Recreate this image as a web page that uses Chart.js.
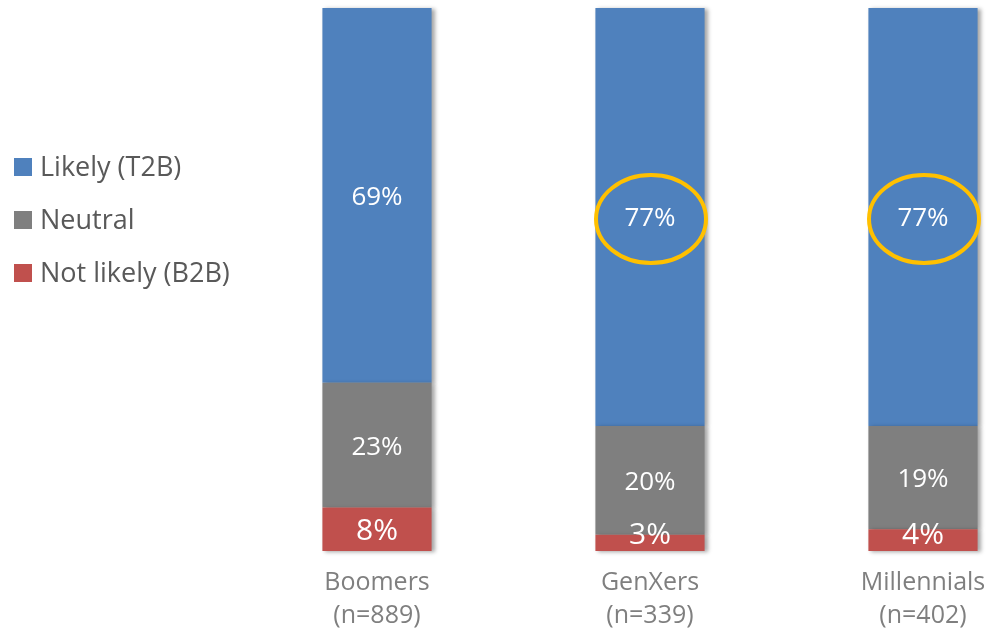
<!DOCTYPE html>
<html>
<head>
<meta charset="utf-8">
<script src="https://cdn.jsdelivr.net/npm/chart.js@4/dist/chart.umd.min.js"></script>
<style>
html,body{margin:0;padding:0;background:#fff;}
#wrap{width:1002px;height:632px;position:relative;}
</style>
</head>
<body>
<div id="wrap"><canvas id="c"></canvas></div>
<script>
const categories = [["Boomers","(n=889)"],["GenXers","(n=339)"],["Millennials","(n=402)"]];
const notLikely = [8, 3, 4];
const neutral = [23, 20, 19];
const likely = [69, 77, 77];
const seriesNames = ["Not likely (B2B)", "Neutral", "Likely (T2B)"];
const seriesColors = ["#C0504D", "#7F7F7F", "#4F81BD"];
const highlighted = [1, 2]; // categories with circled "Likely" value

const FONT = "'Open Sans', Lato, sans-serif";

const labelPlugin = {
  id: 'valueLabels',
  beforeDatasetsDraw(chart) {
    const ctx = chart.ctx;
    ctx.save();
    ctx.shadowColor = 'rgba(0,0,0,0.35)';
    ctx.shadowBlur = 4;
    ctx.shadowOffsetX = 3;
    ctx.shadowOffsetY = 1;
  },
  afterDatasetsDraw(chart) {
    const ctx = chart.ctx;
    ctx.restore();
    ctx.save();
    ctx.fillStyle = '#ffffff';
    ctx.textAlign = 'center';
    ctx.textBaseline = 'middle';
    const bottom = chart.chartArea.bottom;
    chart.data.datasets.forEach((ds, di) => {
      const meta = chart.getDatasetMeta(di);
      meta.data.forEach((el, i) => {
        const v = ds.data[i];
        const small = di === 0;
        ctx.font = (small ? 30 : 26) + 'px ' + FONT;
        let y = (el.y + el.base) / 2 + 2;
        y = Math.min(y, bottom - 16);
        ctx.fillText(v + '%', el.x, y);
        if (di === 2 && highlighted.includes(i)) {
          ctx.save();
          ctx.strokeStyle = '#FFC000';
          ctx.lineWidth = 4;
          ctx.beginPath();
          ctx.ellipse(el.x + 1, y, 55, 44, 0, 0, Math.PI * 2);
          ctx.stroke();
          ctx.restore();
        }
      });
    });
    ctx.restore();
  },
  afterDraw(chart) {
    const ctx = chart.ctx;
    ctx.save();
    ctx.font = '27px ' + FONT;
    ctx.textBaseline = 'middle';
    ctx.textAlign = 'left';
    const order = [2, 1, 0];
    order.forEach((di, k) => {
      const ds = chart.data.datasets[di];
      const cy = 167 + k * 53;
      ctx.fillStyle = ds.backgroundColor;
      ctx.fillRect(14, cy - 9, 18, 18);
      ctx.fillStyle = '#595959';
      ctx.fillText(ds.label, 40, cy + 1);
    });
    ctx.restore();
  }
};

new Chart(document.getElementById('c'), {
  type: 'bar',
  data: {
    labels: categories,
    datasets: [
      {label: seriesNames[0], data: notLikely, backgroundColor: seriesColors[0]},
      {label: seriesNames[1], data: neutral, backgroundColor: seriesColors[1]},
      {label: seriesNames[2], data: likely, backgroundColor: seriesColors[2]}
    ].map(d => Object.assign(d, {barPercentage: 1, categoryPercentage: 0.4, clip: false, borderWidth: 0}))
  },
  options: {
    responsive: true,
    maintainAspectRatio: false,
    animation: false,
    layout: {padding: {left: 377, right: 79, top: 8, bottom: 0}},
    plugins: {legend: {display: false}, tooltip: {enabled: false}},
    scales: {
      x: {
        stacked: true,
        offset: false,
        grid: {display: false, drawTicks: false},
        border: {display: false},
        afterFit(scale) { scale.height = 81; },
        ticks: {color: '#7F7F7F', font: {family: FONT, size: 25, lineHeight: 1.33}, padding: 15, maxRotation: 0, autoSkip: false}
      },
      y: {
        stacked: true,
        min: 0, max: 100,
        display: false
      }
    }
  },
  plugins: [labelPlugin]
});
</script>
</body>
</html>
